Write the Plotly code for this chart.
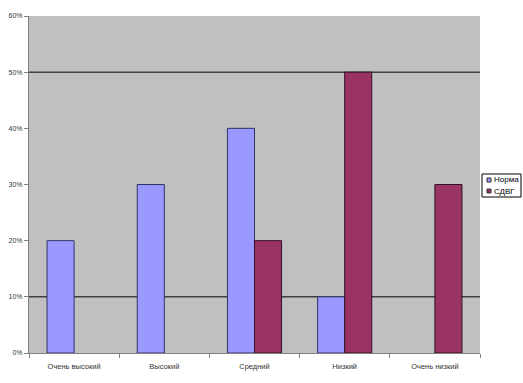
import plotly.graph_objects as go

categories = ["Очень высокий", "Высокий", "Средний", "Низкий", "Очень низкий"]
norma = [0.20, 0.30, 0.40, 0.10, None]
sdvg = [None, None, 0.20, 0.50, 0.30]
series_names = ["Норма", "СДВГ"]
series_colors = ["#9999FF", "#993366"]
series_lines = ["#333366", "#331122"]
y_ticks = [0, 0.1, 0.2, 0.3, 0.4, 0.5, 0.6]
y_tick_text = ["0%", "10%", "20%", "30%", "40%", "50%", "60%"]
grid_levels = [0.1, 0.5]

fig = go.Figure()
for vals, name, col, lc in zip([norma, sdvg], series_names, series_colors, series_lines):
    fig.add_trace(go.Bar(x=categories, y=vals, name=name, showlegend=False,
                         marker=dict(color=col, line=dict(color=lc, width=1))))

for g in grid_levels:
    fig.add_shape(type="line", xref="paper", x0=0, x1=1, yref="y", y0=g, y1=g,
                  line=dict(color="#000000", width=1), layer="below")

# compact Excel-like legend box (drawn in paper coordinates)
fig.add_shape(type="rect", xref="paper", yref="paper", x0=1.0044, x1=1.0909,
              y0=0.4629, y1=0.5312, line=dict(color="#000000", width=1),
              fillcolor="white")
legend_rows = [(0.5074, 0.5193, 0.5134), (0.4748, 0.4866, 0.4807)]
for (ya, yb, yt), name, col in zip(legend_rows, series_names, series_colors):
    fig.add_shape(type="rect", xref="paper", yref="paper", x0=1.0155, x1=1.0244,
                  y0=ya, y1=yb, fillcolor=col, line=dict(color="#333333", width=1))
    fig.add_annotation(xref="paper", yref="paper", x=1.0266, y=yt, text=name,
                       showarrow=False, xanchor="left", yanchor="middle",
                       font=dict(size=8, color="#000000"), xshift=0)

fig.update_layout(
    width=523, height=383,
    margin=dict(l=29, r=43, t=16, b=30, autoexpand=False),
    paper_bgcolor="white", plot_bgcolor="#C0C0C0",
    barmode="group", bargap=0.4, bargroupgap=0,
    font=dict(family="Liberation Sans, Arial", size=7, color="#333333"),
    showlegend=False,
    xaxis=dict(showgrid=False, showline=True, linecolor="#808080",
               ticks="outside", tickson="boundaries", ticklen=4, tickcolor="#808080",
               tickfont=dict(size=7.5, color="#333333"), automargin=False,
               ticklabelstandoff=6),
    yaxis=dict(range=[0, 0.6], tickvals=y_ticks, ticktext=y_tick_text,
               showgrid=False, showline=True, linecolor="#808080",
               ticks="outside", ticklen=4, tickcolor="#808080", zeroline=False,
               tickfont=dict(size=7, color="#333333"), automargin=False),
)

fig.write_html("out.html", config={"displayModeBar": False},
               post_script="document.body.style.margin='0';")
